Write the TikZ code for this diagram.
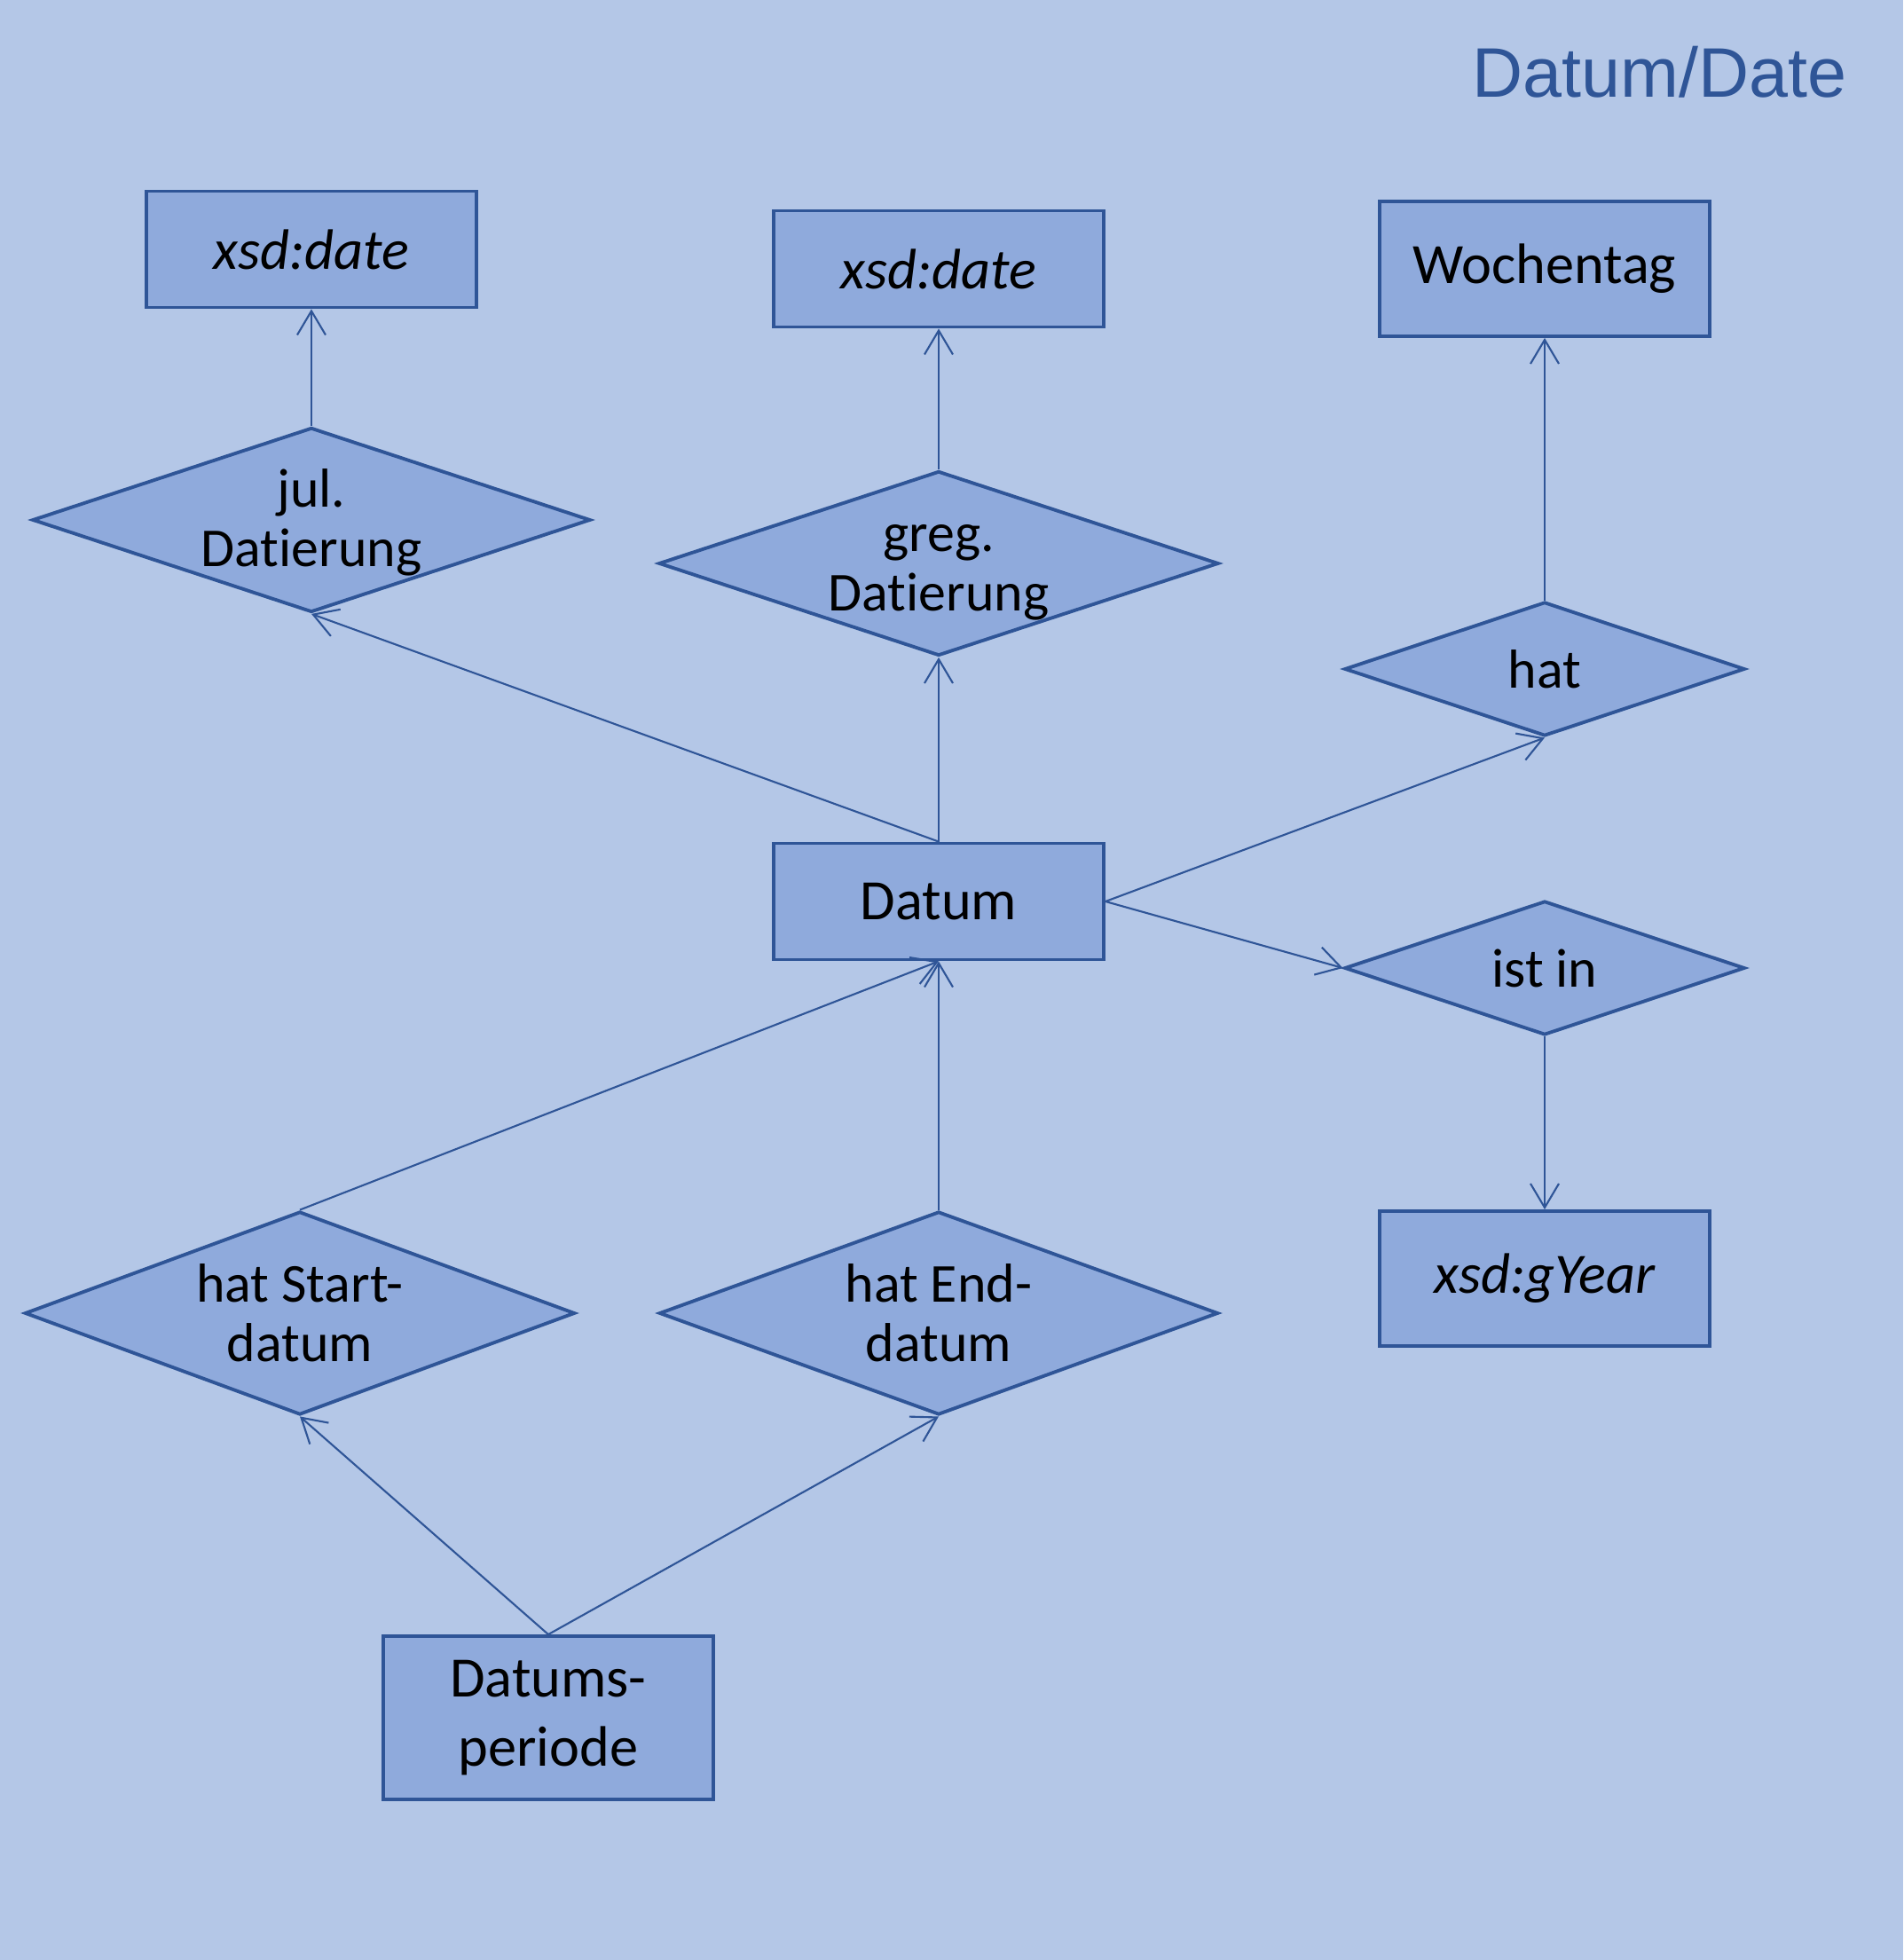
\documentclass[tikz,border=0pt]{standalone}
\usepackage{fontspec}
\setmainfont{Carlito}[Ligatures=CommonOff]
\newfontfamily\titlefont{Liberation Sans}
\usetikzlibrary{arrows.meta,shapes.geometric}
\usetikzlibrary{positioning}
\definecolor{bgblue}{HTML}{B4C7E7}
\definecolor{boxblue}{HTML}{8FAADC}
\definecolor{lineblue}{HTML}{2F5597}

\begin{document}
\begin{tikzpicture}[>={Straight Barb[length=0.27cm,width=0.32cm]},node distance=3cm,on grid,
	entity/.style={rectangle,draw=lineblue,fill=boxblue,line width=1.1pt,minimum width=3.72cm,minimum height=1.31cm,inner sep=0pt,align=center,font=\fontsize{18.3}{22}\selectfont},
	relation/.style={diamond,draw=lineblue,fill=boxblue,line width=1.1pt,inner sep=0pt},
	every label/.style={align=center,font=\fontsize{17.6}{19}\selectfont},
	link/.style={->,draw=lineblue,line width=0.6pt}]
	\fill[bgblue] (-10.58,10.16) rectangle (10.87,-11.93);
	\node[anchor=base east,inner sep=0pt,text=lineblue,font=\titlefont\fontsize{22.5}{27}\selectfont] (title) at (10.24,9.06) {Datum/Date};
	% Mitte
	\node[entity]          (datum)                                   {Datum};
	\node[relation,minimum width=6.31cm,minimum height=2.08cm,label={[yshift=-0.1cm]center:greg.\\Datierung}] (greg) [above=3.81cm of datum] {};
	\node[entity]          (date2) [above=3.32cm of greg]            {\itshape xsd:date};
	\node[relation,minimum width=6.30cm,minimum height=2.29cm,label={center:hat End-\\datum}] (ende) [below=4.64cm of datum] {};
	% links
	\node[relation,minimum width=6.29cm,minimum height=2.08cm,label={[yshift=-0.03cm]center:jul.\\Datierung}] (jul) [above left=4.30cm and 7.07cm of datum] {};
	\node[entity]          (date1) [above=3.05cm of jul]             {\itshape xsd:date};
	\node[relation,minimum width=6.20cm,minimum height=2.29cm,label={center:hat Start-\\datum}] (start) [below left=4.64cm and 7.20cm of datum] {};
	\node[entity,minimum height=1.84cm] (periode) [below left=9.20cm and 4.40cm of datum] {Datums-\\periode};
	% rechts
	\node[relation,minimum width=4.51cm,minimum height=1.51cm,label={center:hat}] (hat) [above right=2.62cm and 6.83cm of datum] {};
	\node[entity,minimum height=1.52cm] (woche) [above=4.51cm of hat] {Wochentag};
	\node[relation,minimum width=4.51cm,minimum height=1.51cm,label={center:ist in}] (istin) [below right=0.75cm and 6.83cm of datum] {};
	\node[entity,minimum height=1.52cm] (gyear) [below=3.50cm of istin] {\itshape xsd:gYear};
	\path
	(jul.north)     edge [link]   (date1.south)
	(greg.north)    edge [link]   (date2.south)
	(hat.north)     edge [link]   (woche.south)
	(datum.north)   edge [link]   (jul.south)
	(datum.north)   edge [link]   (greg.south)
	(datum.east)    edge [link]   (hat.south)
	(datum.east)    edge [link]   (istin.west)
	(istin.south)   edge [link]   (gyear.north)
	(start.north)   edge [link]   (datum.south)
	(ende.north)    edge [link]   (datum.south)
	(periode.north) edge [link]   (start.south)
	(periode.north) edge [link]   (ende.south);
\end{tikzpicture}
\end{document}
